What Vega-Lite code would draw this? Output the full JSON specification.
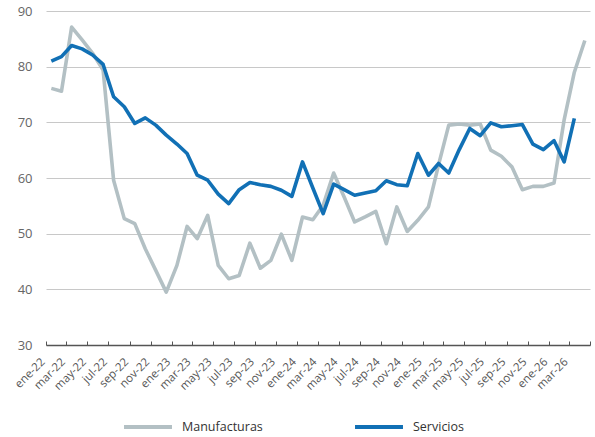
{
  "$schema": "https://vega.github.io/schema/vega-lite/v6.json",
  "width": 544,
  "height": 334,
  "autosize": "none",
  "padding": {"left": 46, "top": 11, "right": 5, "bottom": 92},
  "background": "white",
  "data": {
    "values": [
      {"mes": "2022-01", "serie": "Manufacturas", "valor": 76.1},
      {"mes": "2022-02", "serie": "Manufacturas", "valor": 75.6},
      {"mes": "2022-03", "serie": "Manufacturas", "valor": 87.1},
      {"mes": "2022-04", "serie": "Manufacturas", "valor": 84.8},
      {"mes": "2022-05", "serie": "Manufacturas", "valor": 82.4},
      {"mes": "2022-06", "serie": "Manufacturas", "valor": 79.4},
      {"mes": "2022-07", "serie": "Manufacturas", "valor": 59.6},
      {"mes": "2022-08", "serie": "Manufacturas", "valor": 52.7},
      {"mes": "2022-09", "serie": "Manufacturas", "valor": 51.8},
      {"mes": "2022-10", "serie": "Manufacturas", "valor": 47.3},
      {"mes": "2022-11", "serie": "Manufacturas", "valor": 43.4},
      {"mes": "2022-12", "serie": "Manufacturas", "valor": 39.5},
      {"mes": "2023-01", "serie": "Manufacturas", "valor": 44.3},
      {"mes": "2023-02", "serie": "Manufacturas", "valor": 51.3},
      {"mes": "2023-03", "serie": "Manufacturas", "valor": 49.1},
      {"mes": "2023-04", "serie": "Manufacturas", "valor": 53.3},
      {"mes": "2023-05", "serie": "Manufacturas", "valor": 44.3},
      {"mes": "2023-06", "serie": "Manufacturas", "valor": 41.9},
      {"mes": "2023-07", "serie": "Manufacturas", "valor": 42.5},
      {"mes": "2023-08", "serie": "Manufacturas", "valor": 48.3},
      {"mes": "2023-09", "serie": "Manufacturas", "valor": 43.8},
      {"mes": "2023-10", "serie": "Manufacturas", "valor": 45.2},
      {"mes": "2023-11", "serie": "Manufacturas", "valor": 49.9},
      {"mes": "2023-12", "serie": "Manufacturas", "valor": 45.2},
      {"mes": "2024-01", "serie": "Manufacturas", "valor": 53.0},
      {"mes": "2024-02", "serie": "Manufacturas", "valor": 52.5},
      {"mes": "2024-03", "serie": "Manufacturas", "valor": 55.1},
      {"mes": "2024-04", "serie": "Manufacturas", "valor": 60.9},
      {"mes": "2024-05", "serie": "Manufacturas", "valor": 56.6},
      {"mes": "2024-06", "serie": "Manufacturas", "valor": 52.1},
      {"mes": "2024-07", "serie": "Manufacturas", "valor": 53.0},
      {"mes": "2024-08", "serie": "Manufacturas", "valor": 54.0},
      {"mes": "2024-09", "serie": "Manufacturas", "valor": 48.2},
      {"mes": "2024-10", "serie": "Manufacturas", "valor": 54.8},
      {"mes": "2024-11", "serie": "Manufacturas", "valor": 50.4},
      {"mes": "2024-12", "serie": "Manufacturas", "valor": 52.4},
      {"mes": "2025-01", "serie": "Manufacturas", "valor": 54.8},
      {"mes": "2025-02", "serie": "Manufacturas", "valor": 62.4},
      {"mes": "2025-03", "serie": "Manufacturas", "valor": 69.5},
      {"mes": "2025-04", "serie": "Manufacturas", "valor": 69.7},
      {"mes": "2025-05", "serie": "Manufacturas", "valor": 69.5},
      {"mes": "2025-06", "serie": "Manufacturas", "valor": 69.7},
      {"mes": "2025-07", "serie": "Manufacturas", "valor": 65.0},
      {"mes": "2025-08", "serie": "Manufacturas", "valor": 63.9},
      {"mes": "2025-09", "serie": "Manufacturas", "valor": 62.0},
      {"mes": "2025-10", "serie": "Manufacturas", "valor": 57.9},
      {"mes": "2025-11", "serie": "Manufacturas", "valor": 58.5},
      {"mes": "2025-12", "serie": "Manufacturas", "valor": 58.5},
      {"mes": "2026-01", "serie": "Manufacturas", "valor": 59.1},
      {"mes": "2026-02", "serie": "Manufacturas", "valor": 70.5},
      {"mes": "2026-03", "serie": "Manufacturas", "valor": 79.0},
      {"mes": "2026-04", "serie": "Manufacturas", "valor": 84.7},
      {"mes": "2022-01", "serie": "Servicios", "valor": 81.0},
      {"mes": "2022-02", "serie": "Servicios", "valor": 81.8},
      {"mes": "2022-03", "serie": "Servicios", "valor": 83.8},
      {"mes": "2022-04", "serie": "Servicios", "valor": 83.2},
      {"mes": "2022-05", "serie": "Servicios", "valor": 82.1},
      {"mes": "2022-06", "serie": "Servicios", "valor": 80.4},
      {"mes": "2022-07", "serie": "Servicios", "valor": 74.6},
      {"mes": "2022-08", "serie": "Servicios", "valor": 72.8},
      {"mes": "2022-09", "serie": "Servicios", "valor": 69.8},
      {"mes": "2022-10", "serie": "Servicios", "valor": 70.8},
      {"mes": "2022-11", "serie": "Servicios", "valor": 69.5},
      {"mes": "2022-12", "serie": "Servicios", "valor": 67.7},
      {"mes": "2023-01", "serie": "Servicios", "valor": 66.1},
      {"mes": "2023-02", "serie": "Servicios", "valor": 64.4},
      {"mes": "2023-03", "serie": "Servicios", "valor": 60.5},
      {"mes": "2023-04", "serie": "Servicios", "valor": 59.6},
      {"mes": "2023-05", "serie": "Servicios", "valor": 57.1},
      {"mes": "2023-06", "serie": "Servicios", "valor": 55.4},
      {"mes": "2023-07", "serie": "Servicios", "valor": 57.9},
      {"mes": "2023-08", "serie": "Servicios", "valor": 59.2},
      {"mes": "2023-09", "serie": "Servicios", "valor": 58.8},
      {"mes": "2023-10", "serie": "Servicios", "valor": 58.5},
      {"mes": "2023-11", "serie": "Servicios", "valor": 57.8},
      {"mes": "2023-12", "serie": "Servicios", "valor": 56.7},
      {"mes": "2024-01", "serie": "Servicios", "valor": 62.9},
      {"mes": "2024-02", "serie": "Servicios", "valor": 58.2},
      {"mes": "2024-03", "serie": "Servicios", "valor": 53.6},
      {"mes": "2024-04", "serie": "Servicios", "valor": 58.9},
      {"mes": "2024-05", "serie": "Servicios", "valor": 57.9},
      {"mes": "2024-06", "serie": "Servicios", "valor": 56.9},
      {"mes": "2024-07", "serie": "Servicios", "valor": 57.3},
      {"mes": "2024-08", "serie": "Servicios", "valor": 57.7},
      {"mes": "2024-09", "serie": "Servicios", "valor": 59.5},
      {"mes": "2024-10", "serie": "Servicios", "valor": 58.8},
      {"mes": "2024-11", "serie": "Servicios", "valor": 58.6},
      {"mes": "2024-12", "serie": "Servicios", "valor": 64.4},
      {"mes": "2025-01", "serie": "Servicios", "valor": 60.5},
      {"mes": "2025-02", "serie": "Servicios", "valor": 62.6},
      {"mes": "2025-03", "serie": "Servicios", "valor": 60.9},
      {"mes": "2025-04", "serie": "Servicios", "valor": 65.1},
      {"mes": "2025-05", "serie": "Servicios", "valor": 68.9},
      {"mes": "2025-06", "serie": "Servicios", "valor": 67.6},
      {"mes": "2025-07", "serie": "Servicios", "valor": 69.9},
      {"mes": "2025-08", "serie": "Servicios", "valor": 69.2},
      {"mes": "2025-09", "serie": "Servicios", "valor": 69.4},
      {"mes": "2025-10", "serie": "Servicios", "valor": 69.6},
      {"mes": "2025-11", "serie": "Servicios", "valor": 66.1},
      {"mes": "2025-12", "serie": "Servicios", "valor": 65.1},
      {"mes": "2026-01", "serie": "Servicios", "valor": 66.7},
      {"mes": "2026-02", "serie": "Servicios", "valor": 62.9},
      {"mes": "2026-03", "serie": "Servicios", "valor": 70.7}
    ]
  },
  "mark": {"type": "line", "strokeWidth": 3.6, "strokeJoin": "round"},
  "encoding": {
    "x": {
      "field": "mes",
      "type": "temporal",
      "timeUnit": "utcyearmonth",
      "bandPosition": 0.5,
      "scale": {
        "type": "utc",
        "nice": false,
        "domain": [
          {"year": 2022, "month": 1, "date": 1, "utc": true},
          {"year": 2026, "month": 5, "date": 1, "utc": true}
        ]
      },
      "axis": {
        "title": null,
        "grid": false,
        "values": [
          {"year": 2022, "month": 1, "date": 1, "utc": true},
          {"year": 2022, "month": 3, "date": 1, "utc": true},
          {"year": 2022, "month": 5, "date": 1, "utc": true},
          {"year": 2022, "month": 7, "date": 1, "utc": true},
          {"year": 2022, "month": 9, "date": 1, "utc": true},
          {"year": 2022, "month": 11, "date": 1, "utc": true},
          {"year": 2023, "month": 1, "date": 1, "utc": true},
          {"year": 2023, "month": 3, "date": 1, "utc": true},
          {"year": 2023, "month": 5, "date": 1, "utc": true},
          {"year": 2023, "month": 7, "date": 1, "utc": true},
          {"year": 2023, "month": 9, "date": 1, "utc": true},
          {"year": 2023, "month": 11, "date": 1, "utc": true},
          {"year": 2024, "month": 1, "date": 1, "utc": true},
          {"year": 2024, "month": 3, "date": 1, "utc": true},
          {"year": 2024, "month": 5, "date": 1, "utc": true},
          {"year": 2024, "month": 7, "date": 1, "utc": true},
          {"year": 2024, "month": 9, "date": 1, "utc": true},
          {"year": 2024, "month": 11, "date": 1, "utc": true},
          {"year": 2025, "month": 1, "date": 1, "utc": true},
          {"year": 2025, "month": 3, "date": 1, "utc": true},
          {"year": 2025, "month": 5, "date": 1, "utc": true},
          {"year": 2025, "month": 7, "date": 1, "utc": true},
          {"year": 2025, "month": 9, "date": 1, "utc": true},
          {"year": 2025, "month": 11, "date": 1, "utc": true},
          {"year": 2026, "month": 1, "date": 1, "utc": true},
          {"year": 2026, "month": 3, "date": 1, "utc": true},
          {"year": 2026, "month": 5, "date": 1, "utc": true}
        ],
        "labelExpr": "(utcyear(datum.value) == 2026 && utcmonth(datum.value) == 4) ? '' : ['ene','feb','mar','abr','may','jun','jul','ago','sep','oct','nov','dic'][utcmonth(datum.value)] + '-' + utcFormat(datum.value, '%y')",
        "labelAngle": -45,
        "labelAlign": "right",
        "labelBaseline": "middle",
        "labelOffset": -3,
        "labelPadding": 19,
        "labelFont": "Open Sans",
        "labelFontSize": 11.5,
        "labelColor": "#555555",
        "labelOverlap": false,
        "labelBound": false,
        "labelFlush": false,
        "domainColor": "#555555",
        "domainWidth": 1.5,
        "tickColor": "#555555",
        "tickSize": -4,
        "tickWidth": 1
      }
    },
    "y": {
      "field": "valor",
      "type": "quantitative",
      "scale": {"domain": [30, 90], "nice": false, "zero": false},
      "axis": {
        "title": null,
        "values": [30, 40, 50, 60, 70, 80, 90],
        "domain": false,
        "ticks": false,
        "labelPadding": 14,
        "labelFont": "Open Sans",
        "labelFontSize": 13,
        "labelColor": "#666666",
        "gridColor": "#c8c8c8",
        "gridWidth": 1
      }
    },
    "color": {
      "field": "serie",
      "type": "nominal",
      "scale": {"domain": ["Manufacturas", "Servicios"], "range": ["#b3c0c4", "#1170b5"]},
      "legend": {
        "title": null,
        "orient": "none",
        "direction": "horizontal",
        "columns": 2,
        "columnPadding": 84,
        "legendX": 76,
        "legendY": 390,
        "padding": 0,
        "symbolType": "stroke",
        "symbolSize": 2300,
        "symbolStrokeWidth": 4,
        "labelFont": "Open Sans",
        "labelFontSize": 12.5,
        "labelColor": "#333333",
        "labelOffset": 8
      }
    }
  },
  "config": {"view": {"stroke": null}}
}
